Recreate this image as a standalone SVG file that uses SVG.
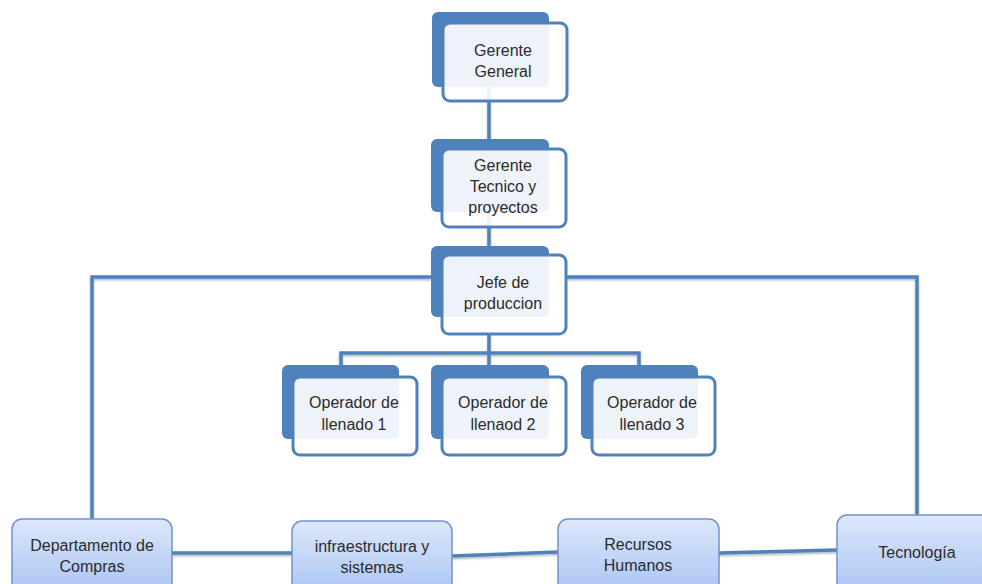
<svg xmlns="http://www.w3.org/2000/svg" width="982" height="584" viewBox="0 0 982 584">
<defs>
<linearGradient id="g" x1="0" y1="0" x2="0" y2="1">
<stop offset="0" stop-color="#dce7fa"/>
<stop offset="1" stop-color="#a6c2f2"/>
</linearGradient>
<filter id="sh" x="-5%" y="-5%" width="110%" height="110%">
<feDropShadow dx="0" dy="1.5" stdDeviation="1" flood-color="#000" flood-opacity="0.3"/>
</filter>
</defs>
<style>
.back{fill:#4f81bd}
.front{fill:#fff;fill-opacity:0.9;stroke:#4f81bd;stroke-width:3}
.low{fill:url(#g);stroke:#7094cc;stroke-width:1.5}
.ln{fill:none;stroke:#4f81bd;stroke-width:3.5}
text{font-family:"Liberation Sans",Arial,sans-serif;font-size:16px;fill:#2b2b2b;text-anchor:middle}
</style>
<rect width="982" height="584" fill="#fff"/>
<g id="connectors" filter="url(#sh)">
<path class="ln" d="M489 87V141"/>
<path class="ln" d="M489 212V247"/>
<path class="ln" d="M431 277H92V519"/>
<path class="ln" d="M566 277H917V515"/>
<path class="ln" d="M489 334V353M341 366V353H639V366M489 353V366"/>
<path class="ln" d="M172 553L292 553"/>
<path class="ln" d="M452 556L558 552"/>
<path class="ln" d="M719 553L837 550"/>
</g>
<g id="gerente-general">
<rect class="back" x="432" y="12" width="117" height="75" rx="6"/>
<rect class="front" x="443" y="23" width="124" height="78" rx="7"/>
<text x="503" y="56">Gerente</text>
<text x="503" y="77">General</text>
</g>
<g id="gerente-tecnico">
<rect class="back" x="431" y="139" width="118" height="73" rx="6"/>
<rect class="front" x="442" y="149" width="124" height="78" rx="7"/>
<text x="503" y="171">Gerente</text>
<text x="503" y="192">Tecnico y</text>
<text x="503" y="213">proyectos</text>
</g>
<g id="jefe-produccion">
<rect class="back" x="431" y="246" width="118" height="71" rx="6"/>
<rect class="front" x="442" y="255" width="124" height="79" rx="7"/>
<text x="503" y="288">Jefe de</text>
<text x="503" y="309">produccion</text>
</g>
<g id="operador-1">
<rect class="back" x="282" y="365" width="117" height="74" rx="6"/>
<rect class="front" x="293" y="377" width="124" height="78" rx="7"/>
<text x="354" y="408">Operador de</text>
<text x="354" y="430">llenado 1</text>
</g>
<g id="operador-2">
<rect class="back" x="431" y="365" width="118" height="74" rx="6"/>
<rect class="front" x="442" y="377" width="124" height="78" rx="7"/>
<text x="503" y="408">Operador de</text>
<text x="503" y="430">llenaod 2</text>
</g>
<g id="operador-3">
<rect class="back" x="581" y="365" width="117" height="74" rx="6"/>
<rect class="front" x="592" y="377" width="123" height="78" rx="7"/>
<text x="652" y="408">Operador de</text>
<text x="652" y="430">llenado 3</text>
</g>
<g id="departamento-compras">
<rect class="low" x="12" y="519" width="160" height="80" rx="10"/>
<text x="92" y="551">Departamento de</text>
<text x="92" y="572">Compras</text>
</g>
<g id="infraestructura">
<rect class="low" x="292" y="521" width="160" height="80" rx="10"/>
<text x="372" y="552">infraestructura y</text>
<text x="372" y="573">sistemas</text>
</g>
<g id="recursos-humanos">
<rect class="low" x="558" y="519" width="161" height="80" rx="10"/>
<text x="638" y="550">Recursos</text>
<text x="638" y="571">Humanos</text>
</g>
<g id="tecnologia">
<rect class="low" x="837" y="515" width="160" height="85" rx="10"/>
<text x="917" y="558">Tecnología</text>
</g>
</svg>
